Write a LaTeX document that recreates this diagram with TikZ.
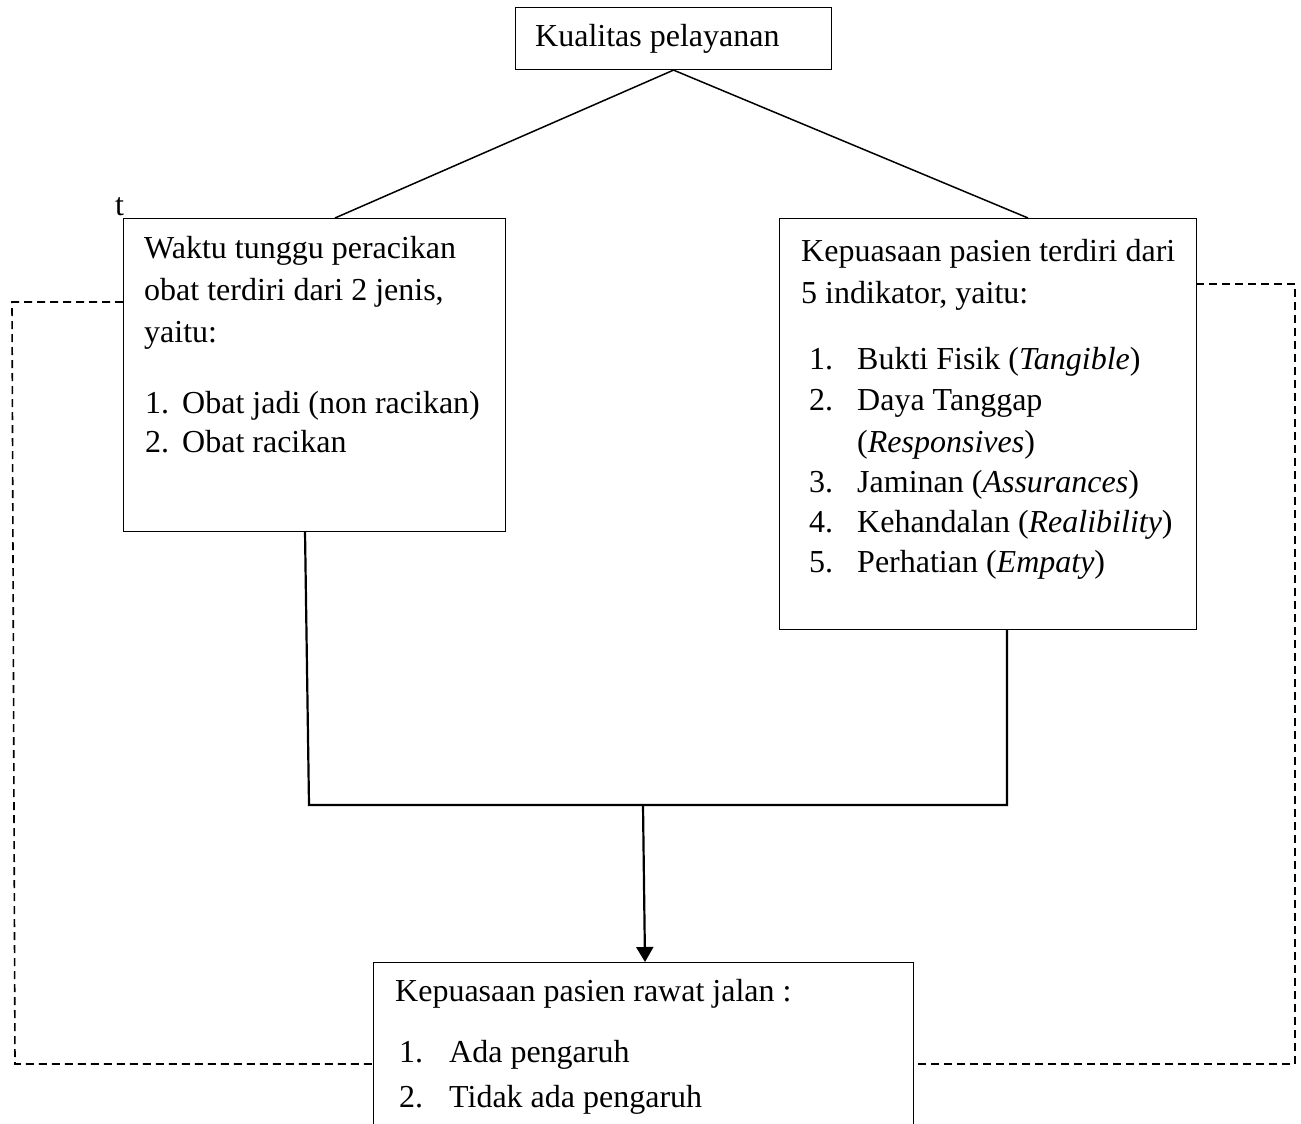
\documentclass[tikz,border=0pt]{standalone}
\usepackage{fontspec}
\setmainfont{Liberation Serif}
\usetikzlibrary{arrows.meta}
\begin{document}
\begin{tikzpicture}[x=1pt,y=-1pt,
  box/.style={draw, line width=1.1pt, inner sep=0pt, anchor=north west},
  txt/.style={anchor=base west, inner sep=0pt, font=\fontsize{32}{38}\selectfont},
  thinconn/.style={line width=1.5pt},
  conn/.style={line width=2.2pt},
  dashline/.style={line width=1.6pt, dash pattern=on 8pt off 5pt}
]
\useasboundingbox (0,0) rectangle (1301,1124);
% boxes
\node[box, minimum width=316pt, minimum height=62pt] (top) at (515,7) {};
\node[box, minimum width=382pt, minimum height=313pt] (lbox) at (123,218) {};
\node[box, minimum width=417pt, minimum height=411pt] (rbox) at (779,218) {};
\node[box, minimum width=540pt, minimum height=200pt] (bbox) at (373,962) {};
% texts
\node[txt] (t0) at (535,47) {Kualitas pelayanan};
\node[txt] (tt) at (115,215) {t};
\node[txt] (l1) at (144,258) {Waktu tunggu peracikan};
\node[txt] (l2) at (144,300) {obat terdiri dari 2 jenis,};
\node[txt] (l3) at (144,342) {yaitu:};
\node[txt] (l4n) at (145,413) {1.};
\node[txt] (l4) at (182,413) {Obat jadi (non racikan)};
\node[txt] (l5n) at (145,452) {2.};
\node[txt] (l5) at (182,452) {Obat racikan};
\node[txt] (r1) at (801,261) {Kepuasaan pasien terdiri dari};
\node[txt] (r2) at (801,303) {5 indikator, yaitu:};
\node[txt] (r3n) at (809,369) {1.};
\node[txt] (r3) at (857,369) {Bukti Fisik (\textit{Tangible})};
\node[txt] (r4n) at (809,410) {2.};
\node[txt] (r4) at (857,410) {Daya Tanggap};
\node[txt] (r5) at (857,452) {(\textit{Responsives})};
\node[txt] (r6n) at (809,492) {3.};
\node[txt] (r6) at (857,492) {Jaminan (\textit{Assurances})};
\node[txt] (r7n) at (809,532) {4.};
\node[txt] (r7) at (857,532) {Kehandalan (\textit{Realibility})};
\node[txt] (r8n) at (809,572) {5.};
\node[txt] (r8) at (857,572) {Perhatian (\textit{Empaty})};
\node[txt] (b1) at (395,1001) {Kepuasaan pasien rawat jalan :};
\node[txt] (b2n) at (399,1062) {1.};
\node[txt] (b2) at (449,1062) {Ada pengaruh};
\node[txt] (b3n) at (399,1107) {2.};
\node[txt] (b3) at (449,1107) {Tidak ada pengaruh};
% connector points
\coordinate (la) at (335,218);
\coordinate (ra) at (1028,218);
\coordinate (lb) at (305,531);
\coordinate (lc) at (309,805);
\coordinate (rc) at (1007,805);
\coordinate (rb) at (1007,629);
\coordinate (ma) at (643,805);
\coordinate (mb) at (645,962);
\draw[thinconn] (top.south) -- (la);
\draw[thinconn] (top.south) -- (ra);
\draw[conn] (lb) -- (lc) -- (rc) -- (rb);
\draw[conn, -{Triangle[width=17pt,length=15pt]}] (ma) -- (mb);
% dashed
\coordinate (dl1) at (123,302);
\coordinate (dl2) at (12,302);
\coordinate (dl3) at (15,1064);
\coordinate (dl4) at (373,1064);
\coordinate (dr1) at (1196,284);
\coordinate (dr2) at (1295,284);
\coordinate (dr3) at (1295,1064);
\coordinate (dr4) at (913,1064);
\draw[dashline] (dl1) -- (dl2) -- (dl3) -- (dl4);
\draw[dashline] (dr1) -- (dr2) -- (dr3) -- (dr4);
\end{tikzpicture}
\end{document}
